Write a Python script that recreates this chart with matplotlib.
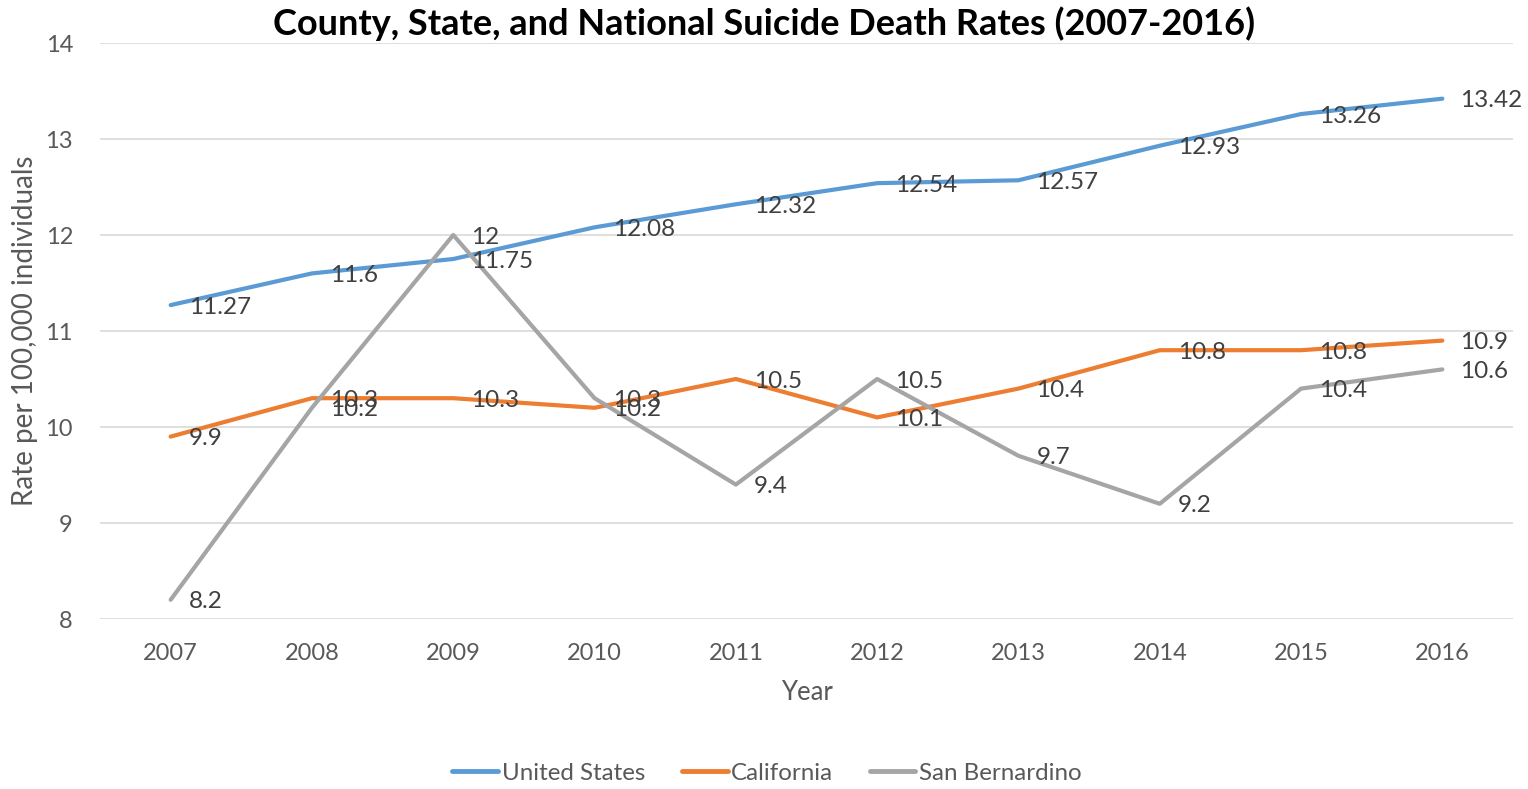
import matplotlib
matplotlib.use("Agg")
import matplotlib.pyplot as plt

plt.rcParams['font.family'] = ['Lato', 'DejaVu Sans']

years = [2007, 2008, 2009, 2010, 2011, 2012, 2013, 2014, 2015, 2016]
united_states = [11.27, 11.6, 11.75, 12.08, 12.32, 12.54, 12.57, 12.93, 13.26, 13.42]
california = [9.9, 10.3, 10.3, 10.2, 10.5, 10.1, 10.4, 10.8, 10.8, 10.9]
san_bernardino = [8.2, 10.2, 12.0, 10.3, 9.4, 10.5, 9.7, 9.2, 10.4, 10.6]
y_ticks = [8, 9, 10, 11, 12, 13, 14]

series = [
    ("United States", united_states, "#5B9BD5"),
    ("California", california, "#ED7D31"),
    ("San Bernardino", san_bernardino, "#A5A5A5"),
]

W, H = 1528, 789
fig = plt.figure(figsize=(W / 100, H / 100), dpi=100)
ax = fig.add_axes([100 / W, 1 - 619 / H, (1513 - 100) / W, (619 - 43) / H])

xs = list(range(len(years)))
for name, vals, color in series:
    ax.plot(xs, vals, color=color, lw=3.0, label=name, solid_capstyle='round',
            solid_joinstyle='round', zorder=3)

for name, vals, color in series:
    for x, v in zip(xs, vals):
        ax.annotate(f"{v:g}", (x, v), xytext=(13, -1.5), textcoords='offset points',
                    ha='left', va='center', fontsize=17.5, color='#404040', zorder=4)

ax.set_xlim(-0.5, len(years) - 0.5)
ax.set_ylim(8, 14)
ax.set_yticks(y_ticks)
ax.set_xticks(xs)
ax.set_xticklabels([str(y) for y in years])
ax.yaxis.grid(True, color='#D9D9D9', lw=1.2, zorder=0)
ax.set_axisbelow(True)
for s in ax.spines.values():
    s.set_visible(False)
ax.tick_params(axis='both', length=0, labelsize=17, labelcolor='#595959')
ax.tick_params(axis='y', pad=19.5)
ax.tick_params(axis='x', pad=17)

ax.set_xlabel("Year", fontsize=18.5, color='#595959', va='center')
ax.xaxis.set_label_coords(0.5, -73 / 576)
ax.set_ylabel("Rate per 100,000 individuals", fontsize=20, color='#595959',
              va='center', ha='center')
ax.yaxis.set_label_coords(-75 / 1413, 0.5)

fig.text(0.5, 1 - 24 / H, "County, State, and National Suicide Death Rates (2007-2016)",
         ha='center', va='center', fontsize=26, fontweight='bold', color='black')

leg = fig.legend(loc='center', bbox_to_anchor=(0.502, 1 - 773 / H), ncol=3, frameon=False,
                 fontsize=17.4, handlelength=1.9, handletextpad=0.15, columnspacing=1.5,
                 labelcolor='#595959')
for line in leg.get_lines():
    line.set_linewidth(3.5)

fig.savefig("out.png", dpi=100, facecolor='white')
